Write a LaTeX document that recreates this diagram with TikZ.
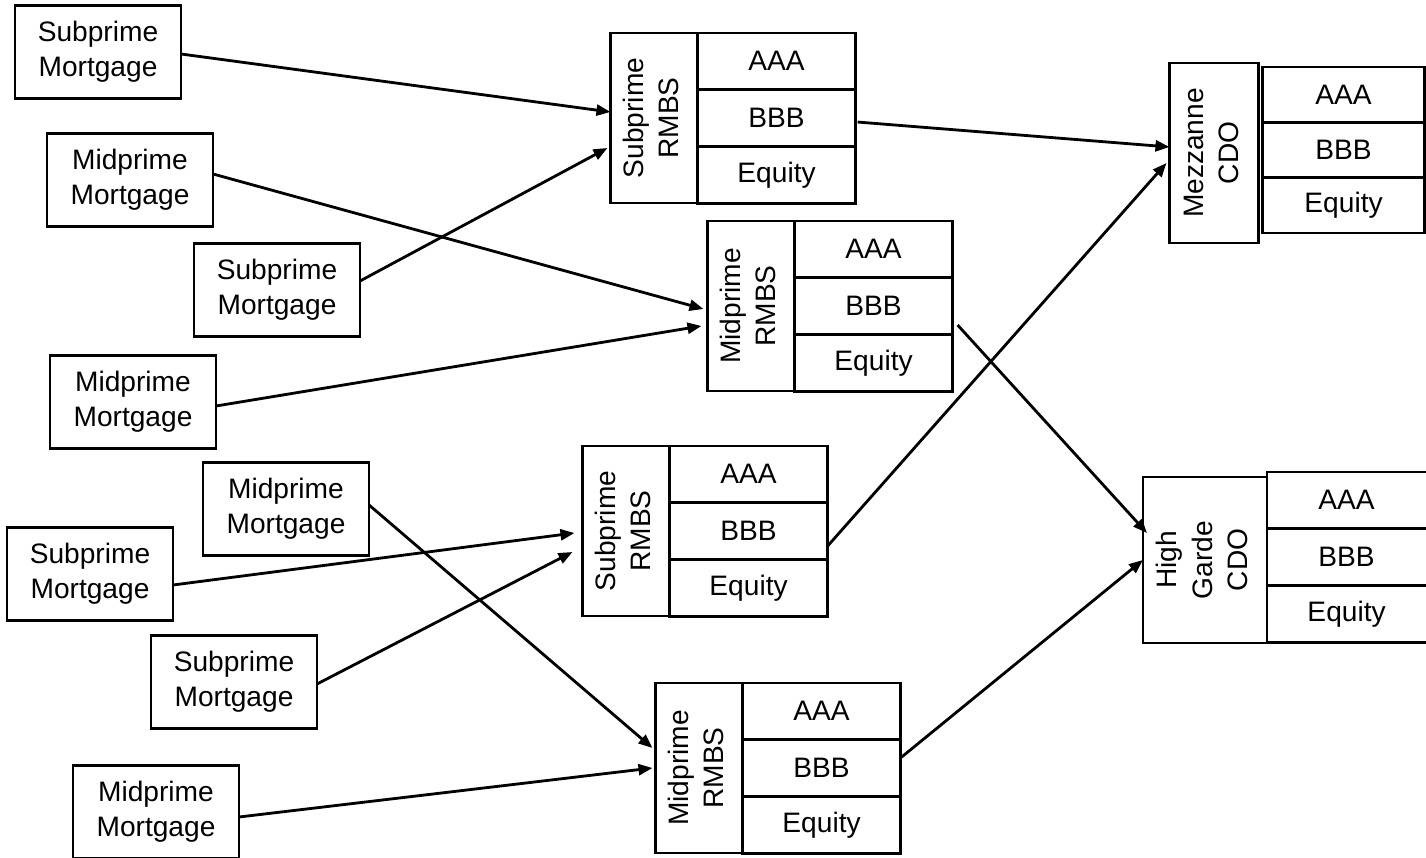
\documentclass[tikz,border=0pt]{standalone}
\usepackage{fontspec}
\setmainfont{Liberation Sans}
\usepackage{graphicx}
\usetikzlibrary{arrows.meta, positioning, calc}
\newcommand{\vtext}[1]{\rotatebox{90}{\begin{tabular}{@{}c@{}}#1\end{tabular}}}
\tikzset{
  mort/.style={draw, thick, outer sep=0pt, align=center, minimum width=1.66cm, minimum height=0.93cm},
  lbl/.style={draw, thick, outer sep=0pt, inner sep=0pt, minimum width=0.87cm, minimum height=1.70cm},
  tr/.style={draw, thick, outer sep=0pt, inner sep=0pt, minimum width=1.58cm, minimum height=0.567cm},
  arr/.style={thick, -{Triangle[length=1.4mm, width=1.1mm]}}
}

\begin{document}
\begin{tikzpicture}[x=0.01cm, y=-0.01cm, font=\fontsize{8}{10}\selectfont]
    \useasboundingbox (0,0) rectangle (1426,858);
    % mortgages
    \node[mort] (m1) at (98,52) {Subprime\\Mortgage};
    \node[mort] (m2) at (130,180) {Midprime\\Mortgage};
    \node[mort] (m3) at (277,290) {Subprime\\Mortgage};
    \node[mort] (m4) at (133,402) {Midprime\\Mortgage};
    \node[mort] (m5) at (286,509) {Midprime\\Mortgage};
    \node[mort] (m6) at (90,574) {Subprime\\Mortgage};
    \node[mort] (m7) at (234,682) {Subprime\\Mortgage};
    \node[mort] (m8) at (156,812) {Midprime\\Mortgage};
    % RMBS
    \node[lbl] (sa) at (654,118) {\vtext{Subprime\\RMBS}};
    \node[lbl] (sb) at (751,306) {\vtext{Midprime\\RMBS}};
    \node[lbl] (sc) at (626,531) {\vtext{Subprime\\RMBS}};
    \node[lbl] (sd) at (699,768) {\vtext{Midprime\\RMBS}};
    \foreach \n in {sa,sb,sc,sd} {
      \node[tr, anchor=north west] (\n-1) at (\n.north east) {AAA};
      \node[tr, below=0pt of \n-1] (\n-2) {BBB};
      \node[tr, below=0pt of \n-2] (\n-3) {Equity};
    }
    % CDOs
    \node[lbl, minimum width=0.89cm, minimum height=1.80cm] (mz) at (1214,153) {\vtext{Mezzanne\\CDO}};
    \node[tr, anchor=north west, minimum width=1.62cm, minimum height=0.553cm] (mz-1) at ($(mz.north east)+(4,4)$) {AAA};
    \node[tr, below=0pt of mz-1, minimum width=1.62cm, minimum height=0.553cm] (mz-2) {BBB};
    \node[tr, below=0pt of mz-2, minimum width=1.62cm, minimum height=0.553cm] (mz-3) {Equity};
    \node[lbl, minimum width=1.24cm, minimum height=1.66cm] (hg) at (1205,560) {\vtext{High\\Garde\\CDO}};
    \node[tr, anchor=north west, minimum width=1.75cm] (hg-1) at ($(hg.north east)+(0,-5)$) {\hspace*{-0.16cm}AAA};
    \node[tr, below=0pt of hg-1, minimum width=1.75cm] (hg-2) {\hspace*{-0.16cm}BBB};
    \node[tr, below=0pt of hg-2, minimum width=1.75cm] (hg-3) {\hspace*{-0.16cm}Equity};
    % mortgages into RMBS
    \draw[arr] ($(m1.east)+(0,2)$) -- ($(sa.west)+(0,-6)$);
    \draw[arr] ($(m3.east)+(0,-9)$) -- ($(sa.west)+(-3,30)$);
    \draw[arr] ($(m2.east)+(0,-6)$) -- ($(sb.west)+(-4,3)$);
    \draw[arr] ($(m4.east)+(0,4)$) -- ($(sb.west)+(-6,20)$);
    \draw[arr] ($(m6.east)+(0,11)$) -- ($(sc.west)+(-8,2)$);
    \draw[arr] ($(m7.east)+(0,2)$) -- ($(sc.west)+(-10,21)$);
    \draw[arr] ($(m5.east)+(0,-4)$) -- ($(sd.west)+(-3,-20)$);
    \draw[arr] ($(m8.east)+(0,5)$) -- ($(sd.west)+(-3,0)$);
    % RMBS into CDOs
    \draw[arr] ($(sa-2.east)+(2,4)$) -- ($(mz.west)+(0,-6)$);
    \draw[arr] ($(sc-2.east)+(0,15)$) -- ($(mz.west)+(-3,10)$);
    \draw[arr] ($(sb-2.east)+(5,19)$) -- ($(hg.west)+(4,-27)$);
    \draw[arr] ($(sd-2.east)+(1,-11)$) -- ($(hg.west)+(0,0)$);
  \end{tikzpicture}
\end{document}
